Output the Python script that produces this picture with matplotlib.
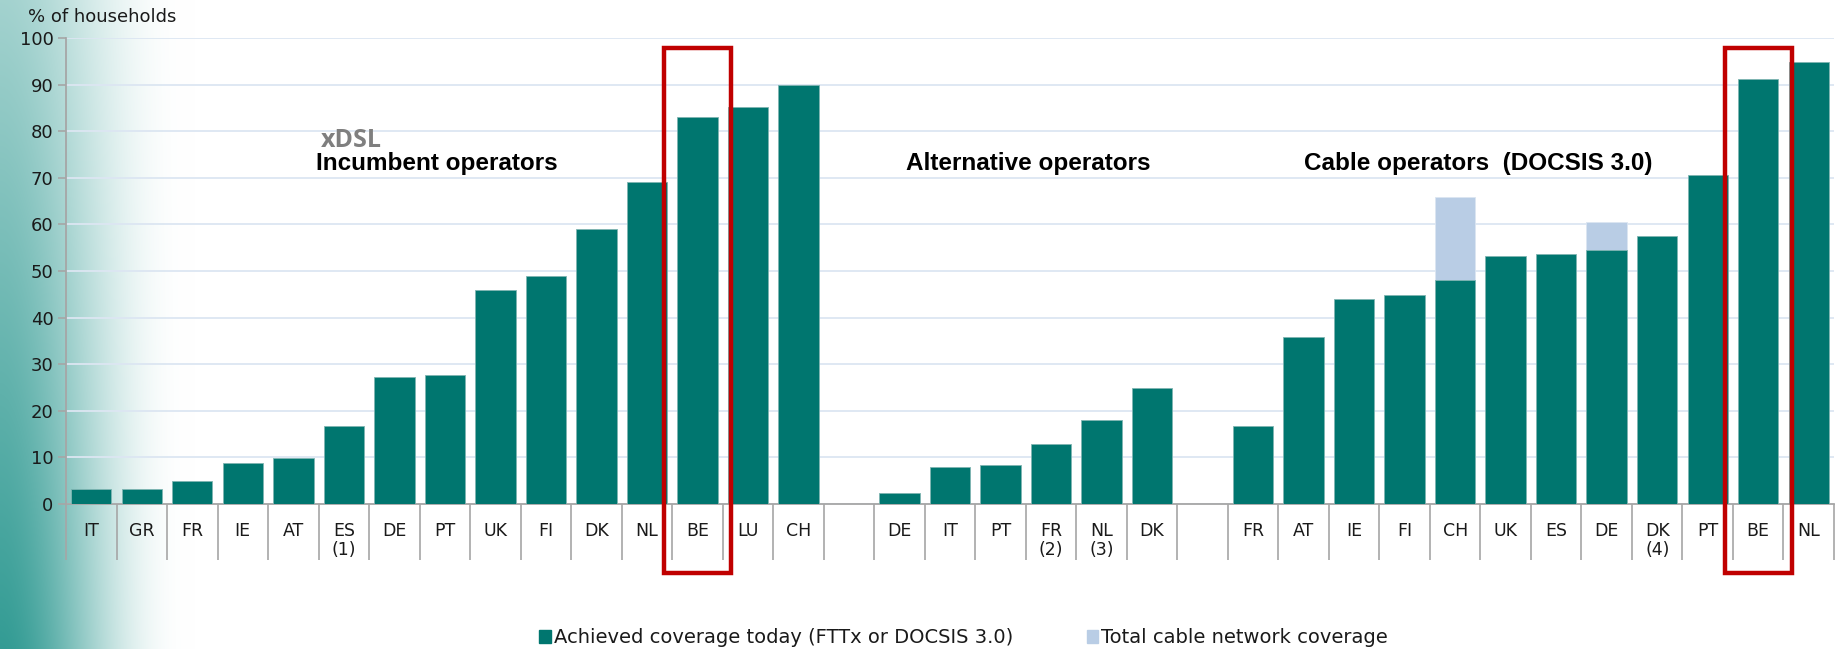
import numpy as np
import matplotlib
matplotlib.use('Agg')
import matplotlib.pyplot as plt
from matplotlib.patches import Rectangle

plt.rcParams['font.family'] = ['DejaVu Sans']

# data (% of households)
inc_labels = ['IT', 'GR', 'FR', 'IE', 'AT', 'ES\n(1)', 'DE', 'PT', 'UK', 'FI', 'DK', 'NL', 'BE', 'LU', 'CH']
inc_vals = [3.3, 3.3, 4.9, 8.9, 9.8, 16.7, 27.2, 27.6, 45.9, 48.9, 59.1, 69.0, 83.0, 85.3, 90.0]

alt_labels = ['DE', 'IT', 'PT', 'FR\n(2)', 'NL\n(3)', 'DK']
alt_vals = [2.3, 8.0, 8.4, 12.8, 18.0, 24.9]

cab_labels = ['FR', 'AT', 'IE', 'FI', 'CH', 'UK', 'ES', 'DE', 'DK\n(4)', 'PT', 'BE', 'NL']
cab_vals = [16.7, 35.8, 44.0, 44.9, 48.0, 53.2, 53.6, 54.6, 57.6, 70.6, 91.1, 94.9]
cab_total = [np.nan, np.nan, np.nan, np.nan, 65.8, np.nan, np.nan, 60.6, np.nan, np.nan, np.nan, np.nan]

titles = ['Incumbent operators', 'Alternative operators', 'Cable operators  (DOCSIS 3.0)']
legend_labels = ['Achieved coverage today (FTTx or DOCSIS 3.0)', 'Total cable network coverage']
highlight = [('inc', 'BE'), ('cab', 'BE')]

dark = '#00766F'
light = '#B9CDE5'
axis_grey = '#A6A6A6'
title_font = ['Liberation Sans', 'DejaVu Sans']

# positions, one empty slot between groups
x_inc = np.arange(len(inc_vals))
x_alt = np.arange(len(alt_vals)) + len(inc_vals) + 1
x_cab = np.arange(len(cab_vals)) + x_alt[-1] + 2
n_slots = x_cab[-1] + 1
all_labels = [''] * n_slots
for xs, labs in [(x_inc, inc_labels), (x_alt, alt_labels), (x_cab, cab_labels)]:
    for x, l in zip(xs, labs):
        all_labels[x] = l

fig = plt.figure(figsize=(18.39, 6.49), dpi=100)

# teal slide gradient on the left edge
W, H = 1839, 649
xx = np.arange(W)
yy = np.arange(H)
t = np.clip(xx / 195.0, 0, 1)
ax_fade = (1 - t * t * (3 - 2 * t)) ** 1.3
ys = 0.45 + 0.55 * (yy / (H - 1))
a = ys[:, None] * ax_fade[None, :]
teal = np.array([0.20, 0.61, 0.58])
img = (1 - a[..., None]) * 1.0 + a[..., None] * teal
bg = fig.add_axes([0, 0, 1, 1], zorder=-1)
bg.imshow(img, extent=[0, 1, 0, 1], aspect='auto')
bg.axis('off')

ax = fig.add_axes([66 / W, 1 - 504 / H, (1834 - 66) / W, (504 - 38) / H])
ax.set_facecolor('none')

ax.bar(x_cab, cab_total, width=0.8, color=light, edgecolor='#dbe5f1', linewidth=0.6, zorder=2,
       label=legend_labels[1])
ax.bar(x_inc, inc_vals, width=0.8, color=dark, edgecolor='#7fb5b2', linewidth=0.6, zorder=3,
       label=legend_labels[0])
ax.bar(x_alt, alt_vals, width=0.8, color=dark, edgecolor='#7fb5b2', linewidth=0.6, zorder=3)
ax.bar(x_cab, cab_vals, width=0.8, color=dark, edgecolor='#7fb5b2', linewidth=0.6, zorder=3)

ax.set_xlim(-0.5, n_slots - 0.5)
ax.set_ylim(0, 100)
ax.set_yticks(np.arange(0, 101, 10))
ax.yaxis.grid(True, color='#DCE6F2', linewidth=1.3, zorder=0)
ax.set_axisbelow(True)
ax.tick_params(axis='y', length=6, width=1.2, color=axis_grey, labelsize=13, pad=3,
               labelcolor='#1a1a1a')

ax.set_xticks(np.arange(n_slots))
ax.set_xticklabels(all_labels, fontsize=12.5, linespacing=1.1, color='#1a1a1a')
ax.tick_params(axis='x', which='major', length=0, pad=13)
ax.set_xticks(np.arange(-0.5, n_slots, 1), minor=True)
ax.tick_params(axis='x', which='minor', length=40, width=1.2, color=axis_grey, direction='out')

for s in ['top', 'right']:
    ax.spines[s].set_visible(False)
for s in ['left', 'bottom']:
    ax.spines[s].set_color(axis_grey)
    ax.spines[s].set_linewidth(1.3)

# group titles
ax.text(6.85, 73, titles[0], ha='center', va='center', fontsize=17.5, fontweight='bold',
        family=title_font)
ax.text(18.55, 73, titles[1], ha='center', va='center', fontsize=17.5, fontweight='bold',
        family=title_font)
ax.text(27.45, 73, titles[2], ha='center', va='center', fontsize=17.5, fontweight='bold',
        family=title_font)
ax.text(5.15, 78.0, 'xDSL', ha='center', va='center', fontsize=18, fontweight='bold',
        color='#7F7F7F', family=['Open Sans', 'DejaVu Sans'])

fig.text(28 / W, 1 - 17 / H, '% of households', ha='left', va='center', fontsize=13,
         color='#1a1a1a')

# red highlight boxes around BE
for grp, lab in highlight:
    xs = x_inc if grp == 'inc' else x_cab
    labs = inc_labels if grp == 'inc' else cab_labels
    xc = xs[labs.index(lab)]
    ax.add_patch(Rectangle((xc - 0.66, -14.7), 1.32, 112.5, fill=False, edgecolor='#C00000',
                           linewidth=3.2, clip_on=False, zorder=5))

h1 = Rectangle((0, 0), 1, 1, color=dark)
h2 = Rectangle((0, 0), 1, 1, color=light)
fig.legend([h1, h2], legend_labels, loc='center', bbox_to_anchor=(0.524, 0.017), ncol=2,
           frameon=False, fontsize=14, handlelength=0.6, handleheight=0.7, handletextpad=0.15,
           columnspacing=3.8, labelcolor='#1a1a1a')

fig.savefig('out.png', dpi=100)
